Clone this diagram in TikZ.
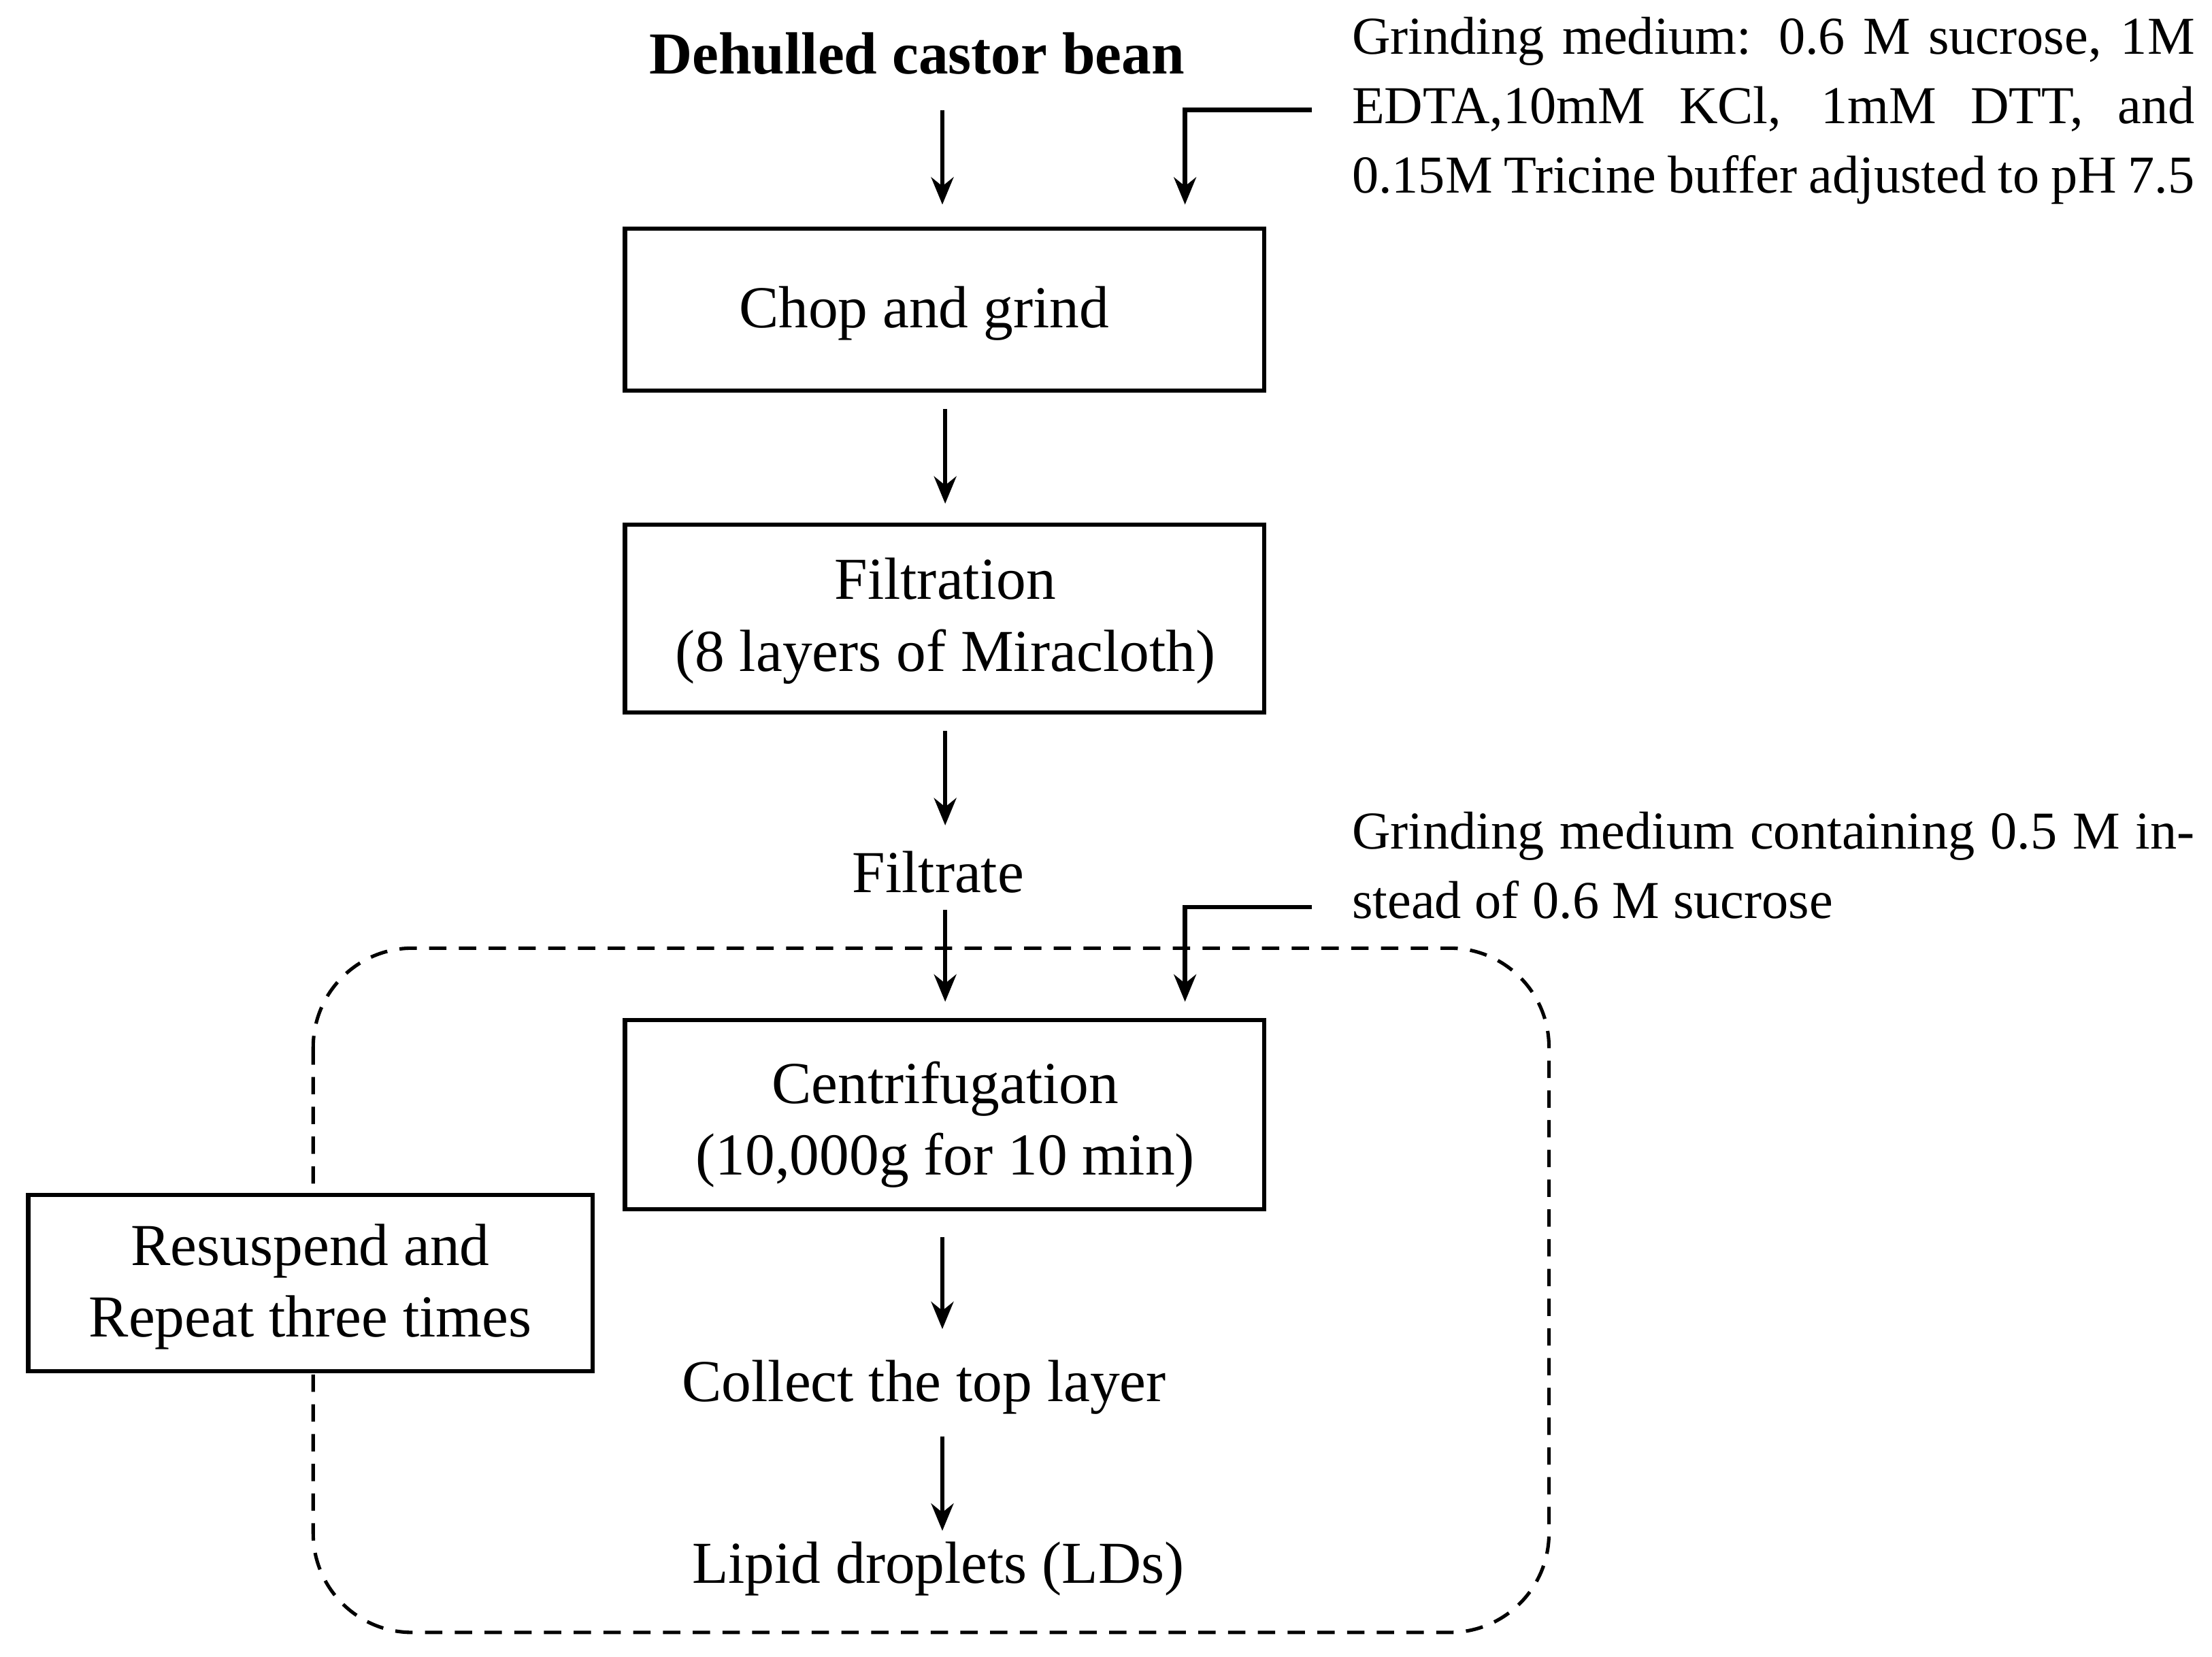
\documentclass[tikz,border=0pt]{standalone}
\usepackage{fontspec}
\setmainfont{Liberation Serif}
\usetikzlibrary{arrows.meta}
\begin{document}
\begin{tikzpicture}[x=0.02cm,y=-0.02cm,
  every node/.style={font=\fontsize{24}{29}\selectfont},
  box/.style={draw,line width=1.7pt,fill=white},
  arr/.style={line width=1.8pt,-{Stealth[length=11pt,width=9pt]}},
  note/.style={anchor=north west,inner sep=0pt,text width=11.95cm,align=justify,font=\fontsize{21.5}{28}\selectfont}]
\useasboundingbox (0,0) rectangle (1568,1174);
\node (t) at (650,38) {\bfseries Dehulled castor bean};
\node[note] (n1) at (958,12) {Grinding medium: 0.6 M sucrose, 1M EDTA,10mM KCl, 1mM DTT, and 0.15M Tricine buffer adjusted to pH 7.5};
\coordinate (n1a) at (930,78);
\draw[box] (443,162) rectangle (896,277);
\node (chop) at (655,222) {Chop and grind};
\draw[box] (443,372) rectangle (896,505);
\node[align=center] (fil) at (670,440) {Filtration\\(8 layers of Miracloth)};
\node (filt) at (665,618) {Filtrate};
\node[note] (n2) at (958,575) {Grinding medium containing 0.5 M instead of 0.6 M sucrose};
\coordinate (n2a) at (930,643);
\draw[line width=1.4pt,dash pattern=on 7pt off 5pt,rounded corners=40] (222,672) rectangle (1098,1157);
\draw[box] (443,723) rectangle (896,857);
\node[align=center] (cen) at (670,797) {Centrifugation\\(10,000g for 10 min)};
\node (col) at (655,983) {Collect the top layer};
\node (lip) at (665,1112) {Lipid droplets (LDs)};
\draw[box] (20,847) rectangle (420,972);
\node[align=center] (res) at (220,912) {Resuspend and\\Repeat three times};
\draw[arr] (668,78) -- (668,145);
\draw[arr] (n1a) -- (840,78) -- (840,145);
\draw[arr] (670,290) -- (670,357);
\draw[arr] (670,518) -- (670,585);
\draw[arr] (670,645) -- (670,710);
\draw[arr] (n2a) -- (840,643) -- (840,710);
\draw[arr] (668,877) -- (668,942);
\draw[arr] (668,1018) -- (668,1085);
\end{tikzpicture}
\end{document}
